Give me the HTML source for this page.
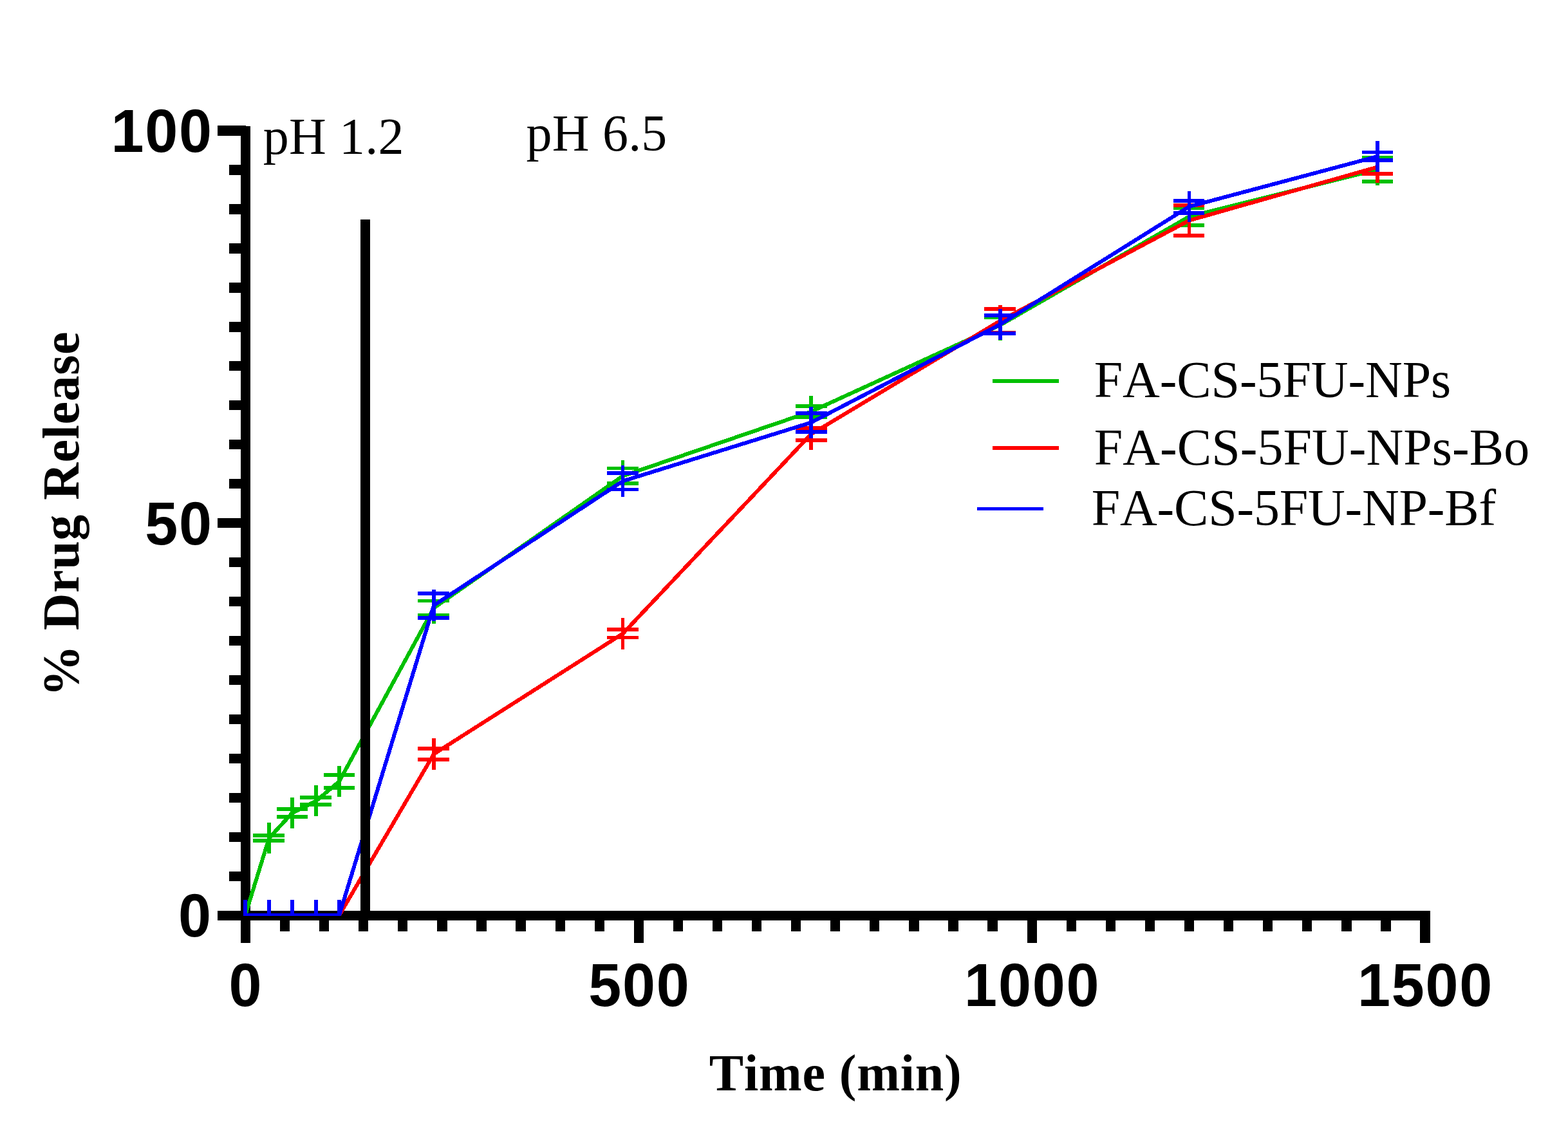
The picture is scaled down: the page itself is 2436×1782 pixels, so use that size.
<!DOCTYPE html>
<html lang="en">
<head>
<meta charset="utf-8">
<title>% Drug Release vs Time (min)</title>
<style>
html,body{margin:0;padding:0;background:#fff;}
body{width:2436px;height:1782px;overflow:hidden;}
svg{display:block;}
text{font-kerning:none;font-variant-ligatures:none;white-space:pre;}
.sans{font-family:"Liberation Sans",sans-serif;font-weight:bold;font-size:95px;fill:#000;}
.serif{font-family:"Liberation Serif",serif;font-size:80px;fill:#000;letter-spacing:0.2px;}
.serifb{font-family:"Liberation Serif",serif;font-weight:bold;font-size:80px;fill:#000;letter-spacing:0.85px;}
</style>
</head>
<body>
<svg role="img" aria-label="Line chart: % Drug Release versus Time (min)" width="2436" height="1782" viewBox="0 0 2436 1782">
<rect x="0" y="0" width="2436" height="1782" fill="#ffffff"/>
<g id="axes" fill="#000000" shape-rendering="crispEdges">
<rect x="374" y="196" width="15" height="1269"/>
<rect x="338" y="1415" width="1884" height="15"/>
<rect x="338" y="195.38" width="44" height="15.25"/>
<rect x="356" y="256.35" width="20" height="15.25"/>
<rect x="356" y="317.32" width="20" height="15.25"/>
<rect x="356" y="378.30" width="20" height="15.25"/>
<rect x="356" y="439.27" width="20" height="15.25"/>
<rect x="356" y="500.25" width="20" height="15.25"/>
<rect x="356" y="561.23" width="20" height="15.25"/>
<rect x="356" y="622.20" width="20" height="15.25"/>
<rect x="356" y="683.17" width="20" height="15.25"/>
<rect x="356" y="744.15" width="20" height="15.25"/>
<rect x="338" y="805.12" width="44" height="15.25"/>
<rect x="356" y="866.10" width="20" height="15.25"/>
<rect x="356" y="927.08" width="20" height="15.25"/>
<rect x="356" y="988.05" width="20" height="15.25"/>
<rect x="356" y="1049.03" width="20" height="15.25"/>
<rect x="356" y="1110.00" width="20" height="15.25"/>
<rect x="356" y="1170.97" width="20" height="15.25"/>
<rect x="356" y="1231.95" width="20" height="15.25"/>
<rect x="356" y="1292.92" width="20" height="15.25"/>
<rect x="356" y="1353.90" width="20" height="15.25"/>
<rect x="434.96" y="1425" width="15.25" height="22"/>
<rect x="496.05" y="1425" width="15.25" height="22"/>
<rect x="557.13" y="1425" width="15.25" height="22"/>
<rect x="618.22" y="1425" width="15.25" height="22"/>
<rect x="679.30" y="1425" width="15.25" height="22"/>
<rect x="740.38" y="1425" width="15.25" height="22"/>
<rect x="801.47" y="1425" width="15.25" height="22"/>
<rect x="862.56" y="1425" width="15.25" height="22"/>
<rect x="923.64" y="1425" width="15.25" height="22"/>
<rect x="984.73" y="1425" width="15.25" height="40"/>
<rect x="1045.81" y="1425" width="15.25" height="22"/>
<rect x="1106.89" y="1425" width="15.25" height="22"/>
<rect x="1167.98" y="1425" width="15.25" height="22"/>
<rect x="1229.07" y="1425" width="15.25" height="22"/>
<rect x="1290.15" y="1425" width="15.25" height="22"/>
<rect x="1351.24" y="1425" width="15.25" height="22"/>
<rect x="1412.32" y="1425" width="15.25" height="22"/>
<rect x="1473.40" y="1425" width="15.25" height="22"/>
<rect x="1534.49" y="1425" width="15.25" height="22"/>
<rect x="1595.58" y="1425" width="15.25" height="40"/>
<rect x="1656.66" y="1425" width="15.25" height="22"/>
<rect x="1717.75" y="1425" width="15.25" height="22"/>
<rect x="1778.83" y="1425" width="15.25" height="22"/>
<rect x="1839.91" y="1425" width="15.25" height="22"/>
<rect x="1901.00" y="1425" width="15.25" height="22"/>
<rect x="1962.09" y="1425" width="15.25" height="22"/>
<rect x="2023.17" y="1425" width="15.25" height="22"/>
<rect x="2084.26" y="1425" width="15.25" height="22"/>
<rect x="2145.34" y="1425" width="15.25" height="22"/>
<rect x="2206.43" y="1425" width="15.25" height="40"/>
</g>
<svg id="plot" x="370" y="0" width="2066" height="1423" viewBox="370 0 2066 1423" overflow="hidden">
<g id="s-green" shape-rendering="crispEdges" stroke="none" fill="#00c000">
<rect x="393" y="1295" width="49" height="6"/><rect x="393" y="1303" width="49" height="6"/>
<rect x="430" y="1254" width="48" height="6"/><rect x="430" y="1266" width="48" height="6"/>
<rect x="466" y="1236" width="49" height="6"/><rect x="466" y="1247" width="49" height="6"/>
<rect x="503" y="1201" width="48" height="6"/><rect x="503" y="1221" width="48" height="6"/>
<rect x="649" y="931" width="49" height="5"/><rect x="649" y="953" width="49" height="6"/>
<rect x="943" y="725" width="49" height="5"/><rect x="943" y="748" width="49" height="6"/>
<rect x="1236" y="628" width="49" height="6"/><rect x="1236" y="645" width="49" height="6"/>
<rect x="1529" y="490" width="49" height="6"/><rect x="1529" y="514" width="49" height="6"/>
<rect x="1823" y="320" width="48" height="6"/><rect x="1823" y="347" width="48" height="6"/>
<rect x="2116" y="242" width="48" height="6"/><rect x="2116" y="279" width="48" height="6"/>
<polyline points="381.0,1422.0 418.0,1302.0 454.0,1263.0 491.0,1244.5 527.0,1214.0 674.0,944.5 967.5,739.5 1260.0,639.5 1554.0,505.0 1847.5,336.5 2140.0,263.5" fill="none" stroke="#00c000" stroke-width="6" stroke-linejoin="miter"/>
<rect x="378" y="1398" width="6" height="49"/>
<rect x="415" y="1278" width="6" height="48"/>
<rect x="451" y="1239" width="6" height="48"/>
<rect x="488" y="1220" width="6" height="48"/>
<rect x="524" y="1190" width="6" height="48"/>
<rect x="671" y="920" width="6" height="49"/>
<rect x="965" y="715" width="5" height="49"/>
<rect x="1257" y="615" width="6" height="49"/>
<rect x="1551" y="480" width="6" height="49"/>
<rect x="1845" y="312" width="5" height="49"/>
<rect x="2137" y="239" width="6" height="49"/>
</g>
<g id="s-red" shape-rendering="crispEdges" stroke="none" fill="#ff0000">
<rect x="649" y="1160" width="49" height="6"/><rect x="649" y="1177" width="49" height="6"/>
<rect x="943" y="975" width="49" height="6"/><rect x="943" y="988" width="49" height="5"/>
<rect x="1236" y="662" width="49" height="6"/><rect x="1236" y="681" width="49" height="6"/>
<rect x="1529" y="477" width="49" height="6"/><rect x="1529" y="514" width="49" height="6"/>
<rect x="1823" y="316" width="48" height="6"/><rect x="1823" y="363" width="48" height="6"/>
<rect x="2116" y="246" width="48" height="6"/><rect x="2116" y="267" width="48" height="6"/>
<polyline points="381.0,1422.0 418.0,1422.0 454.0,1422.0 491.0,1422.0 527.0,1422.0 674.0,1171.5 967.5,984.5 1260.0,674.5 1554.0,498.5 1847.5,342.5 2140.0,259.5" fill="none" stroke="#ff0000" stroke-width="6" stroke-linejoin="miter"/>
<rect x="378" y="1398" width="6" height="49"/>
<rect x="415" y="1398" width="6" height="49"/>
<rect x="451" y="1398" width="6" height="49"/>
<rect x="488" y="1398" width="6" height="49"/>
<rect x="524" y="1398" width="6" height="49"/>
<rect x="671" y="1147" width="6" height="49"/>
<rect x="965" y="960" width="5" height="49"/>
<rect x="1257" y="650" width="6" height="49"/>
<rect x="1551" y="474" width="6" height="49"/>
<rect x="1845" y="318" width="5" height="49"/>
<rect x="2137" y="235" width="6" height="49"/>
</g>
<g id="s-blue" shape-rendering="crispEdges" stroke="none" fill="#0000ff">
<rect x="649" y="919" width="49" height="6"/><rect x="649" y="957" width="49" height="6"/>
<rect x="943" y="732" width="49" height="6"/><rect x="943" y="758" width="49" height="5"/>
<rect x="1236" y="639" width="49" height="6"/><rect x="1236" y="668" width="49" height="6"/>
<rect x="1529" y="487" width="49" height="6"/><rect x="1529" y="515" width="49" height="6"/>
<rect x="1823" y="309" width="48" height="6"/><rect x="1823" y="328" width="48" height="6"/>
<rect x="2116" y="234" width="48" height="5"/><rect x="2116" y="246" width="48" height="6"/>
<polyline points="381.0,1422.0 418.0,1422.0 454.0,1422.0 491.0,1422.0 527.0,1422.0 674.0,940.5 967.5,747.5 1260.0,656.5 1554.0,504.0 1847.5,321.0 2140.0,243.0" fill="none" stroke="#0000ff" stroke-width="6" stroke-linejoin="miter"/>
<rect x="378" y="1398" width="6" height="49"/>
<rect x="415" y="1398" width="6" height="49"/>
<rect x="451" y="1398" width="6" height="49"/>
<rect x="488" y="1398" width="6" height="49"/>
<rect x="524" y="1398" width="6" height="49"/>
<rect x="671" y="916" width="6" height="49"/>
<rect x="965" y="723" width="5" height="49"/>
<rect x="1257" y="632" width="6" height="49"/>
<rect x="1551" y="480" width="6" height="48"/>
<rect x="1845" y="297" width="5" height="48"/>
<rect x="2137" y="219" width="6" height="48"/>
</g>
</svg>
<rect x="560" y="341" width="15" height="1080" fill="#000" shape-rendering="crispEdges"/>
<text class="sans" transform="translate(172.5 236.0) scale(0.965 1)" style="letter-spacing:1.875px">100</text>
<text class="sans" transform="translate(225.3 846.0) scale(0.965 1)" style="letter-spacing:1.875px">50</text>
<text class="sans" transform="translate(276.9 1455.0) scale(0.965 1)" style="letter-spacing:1.875px">0</text>
<text class="sans" transform="translate(355.5 1563.0) scale(0.965 1)" style="letter-spacing:1.875px">0</text>
<text class="sans" transform="translate(914.2 1563.0) scale(0.965 1)" style="letter-spacing:1.875px">500</text>
<text class="sans" transform="translate(1498.1 1563.0) scale(0.965 1)" style="letter-spacing:1.875px">1000</text>
<text class="sans" transform="translate(2109.0 1563.0) scale(0.965 1)" style="letter-spacing:1.875px">1500</text>
<text class="serif" x="408.7" y="239">pH 1.2</text>
<text class="serif" x="817.6" y="234">pH 6.5</text>
<text class="serifb" x="1101.7" y="1694">Time (min)</text>
<text class="serifb" transform="translate(122.2 1082.2) rotate(-90)" style="letter-spacing:0.6px;word-spacing:1.7px">% Drug Release</text>
<g id="legend" shape-rendering="crispEdges">
<rect x="1542" y="589" width="103" height="6" fill="#00c000"/>
<rect x="1542" y="693" width="103" height="6" fill="#ff0000"/>
<rect x="1518" y="788" width="103" height="5" fill="#0000ff"/>
</g>
<text class="serif" x="1699.7" y="617" style="letter-spacing:-0.1px">FA-CS-5FU-NPs</text>
<text class="serif" x="1699.7" y="722" style="letter-spacing:0.05px">FA-CS-5FU-NPs-Bo</text>
<text class="serif" x="1695.7" y="816" style="letter-spacing:-0.2px">FA-CS-5FU-NP-Bf</text>
</svg>
</body>
</html>
